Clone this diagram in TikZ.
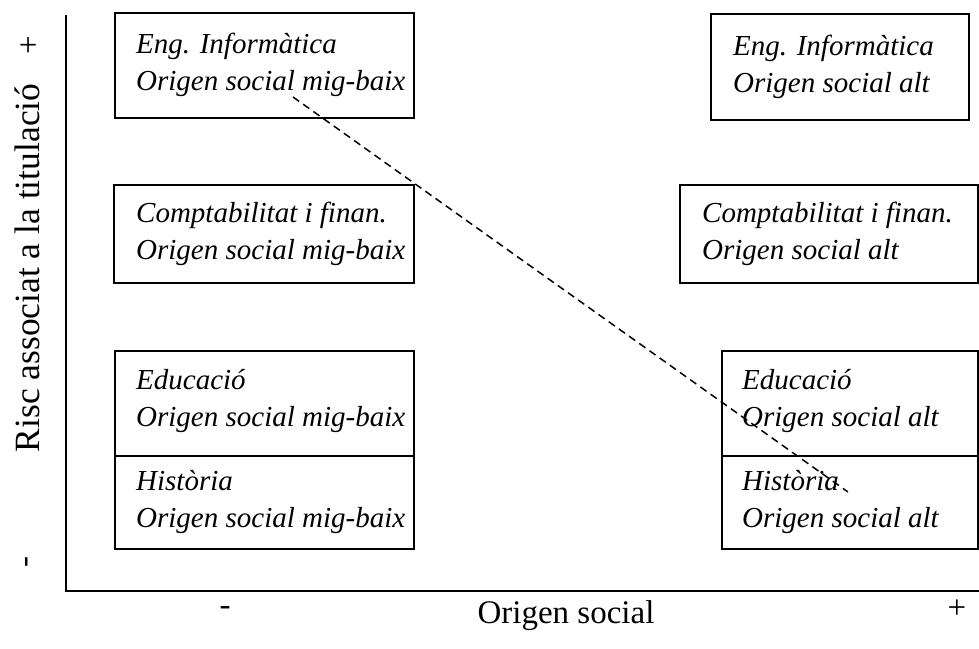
\documentclass[tikz,border=0pt]{standalone}
\usepackage{fontspec}
\setmainfont{Liberation Serif}
\begin{document}
\begin{tikzpicture}[x=1pt,y=-1pt,
  cell/.style={draw, line width=1.5pt, anchor=north west, inner sep=0pt},
  celltext/.style={anchor=west, inner sep=0pt, align=left,
    font=\fontsize{29}{37}\selectfont\itshape},
  axisline/.style={line width=2pt},
  axislabel/.style={font=\fontsize{33}{40}\selectfont},
  trend/.style={dash pattern=on 7.5pt off 5pt, line width=1.5pt}]
\useasboundingbox (0,0) rectangle (979,648);

% axes
\coordinate (ytop) at (66,15);
\coordinate (xend) at (979,591);
\draw[axisline] (ytop) |- (xend);

% axis labels
\node[axislabel, font=\fontsize{35.5}{42}\selectfont, rotate=90] (ylabel) at (27,268)
  {Risc associat a la titulació};
\node[axislabel, rotate=90] (yplus) at (30,45) {+};
\node[axislabel, rotate=90] (yminus) at (30,562) {-};
\node[axislabel] (xlabel) at (566,616) {Origen social};
\node[axislabel] (xminus) at (225,611) {-};
\node[axislabel] (xplus) at (957,609) {+};

% left column: lower-middle social origin
\node[cell, minimum width=299pt, minimum height=105pt] (engLow) at (114,12) {};
\node[celltext] (engLowText) at ([xshift=22pt]engLow.west)
  {Eng. Informàtica\\Origen social mig-baix};
\node[cell, minimum width=300pt, minimum height=98pt] (compLow) at (113,184) {};
\node[celltext] (compLowText) at ([xshift=23pt]compLow.west)
  {Comptabilitat i finan.\\Origen social mig-baix};
\node[cell, minimum width=299pt, minimum height=105pt] (eduLow) at (114,350) {};
\node[celltext] (eduLowText) at ([xshift=22pt,yshift=2pt]eduLow.west)
  {Educació\\Origen social mig-baix};
\node[cell, minimum width=299pt, minimum height=93pt] (histLow) at (114,455) {};
\node[celltext] (histLowText) at ([xshift=22pt]histLow.west)
  {Història\\Origen social mig-baix};

% right column: high social origin
\node[cell, minimum width=258pt, minimum height=106pt] (engHigh) at (710,13) {};
\node[celltext] (engHighText) at ([xshift=23pt]engHigh.west)
  {Eng. Informàtica\\Origen social alt};
\node[cell, minimum width=298pt, minimum height=98pt] (compHigh) at (679,184) {};
\node[celltext] (compHighText) at ([xshift=23pt]compHigh.west)
  {Comptabilitat i finan.\\Origen social alt};
\node[cell, minimum width=256pt, minimum height=105pt] (eduHigh) at (721,350) {};
\node[celltext] (eduHighText) at ([xshift=21pt,yshift=2pt]eduHigh.west)
  {Educació\\Origen social alt};
\node[cell, minimum width=256pt, minimum height=93pt] (histHigh) at (721,455) {};
\node[celltext] (histHighText) at ([xshift=21pt]histHigh.west)
  {Història\\Origen social alt};

% trend line
\coordinate (trendStart) at (293,97);
\coordinate (trendEnd) at (848,492);
\draw[trend] (trendStart) -- (trendEnd);
\end{tikzpicture}
\end{document}
